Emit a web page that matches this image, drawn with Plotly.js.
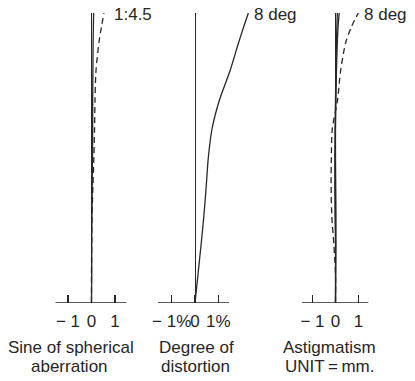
<!DOCTYPE html>
<html>
<head>
<meta charset="utf-8">
<script src="https://cdn.plot.ly/plotly-3.0.1.min.js"></script>
<style>html,body{margin:0;padding:0;background:#fff;}#chart{width:415px;height:381px;}</style>
</head>
<body>
<div id="chart"></div>
<script>
// relative height (field / aperture), bottom = 0, top = 1
const heightFrac = [0, 0.1, 0.2, 0.3, 0.4, 0.5, 0.6, 0.7, 0.8, 0.9, 0.95, 1.0];

// Panel 1: spherical aberration (solid) and sine condition (dashed), 1:4.5
const sphericalAberration = [0, 0.01, 0.01, 0.02, 0.03, 0.04, 0.05, 0.05, 0.06, 0.07, 0.08, 0.09];
const sineCondition       = [0, 0, 0.01, 0.02, 0.06, 0.10, 0.13, 0.15, 0.19, 0.32, 0.42, 0.53];

// Panel 2: distortion (%), 8 deg
const distortion = [0, 0.13, 0.26, 0.38, 0.48, 0.57, 0.73, 1.05, 1.50, 1.88, 2.08, 2.29];

// Panel 3: astigmatism (mm), 8 deg
const astigSagittal   = [0, 0.01, 0.02, 0.02, 0.01, 0.00, 0.00, 0.02, 0.04, 0.08, 0.11, 0.16];
const astigSagittal2  = [0, 0.00, 0.00, -0.02, -0.03, -0.03, -0.02, 0.00, 0.02, 0.04, 0.06, 0.08];
const astigMeridional = [0, 0, -0.07, -0.16, -0.19, -0.18, -0.14, 0.09, 0.22, 0.45, 0.68, 0.99];

const tickVals = [-1, 0, 1];
const tickText1 = ['\u2212 1', '0', '1'];
const tickText2 = ['\u2212 1%', '0', '1%'];
const tickText3 = ['\u2212 1', '0', '1'];

const topLabel1 = '1:4.5';
const topLabel2 = '8 deg';
const topLabel3 = '8 deg';
const title1 = ['Sine of spherical', 'aberration'];
const title2 = ['Degree of', 'distortion'];
const title3 = ['Astigmatism', 'UNIT\u2009=\u2009mm.'];

const W = 415, H = 381;
const ink = '#262626';
const FONT = 'Liberation Sans, Arial, Helvetica, sans-serif';

function px(p) { return p / W; }

const solid = {color: ink, width: 1.3, shape: 'spline', smoothing: 0.8};
const dashed = {color: ink, width: 1.3, dash: '6px,4px', shape: 'spline', smoothing: 0.8};

const data = [
  {x: sphericalAberration, y: heightFrac, xaxis: 'x', yaxis: 'y', mode: 'lines', line: solid, hoverinfo: 'skip'},
  {x: sineCondition, y: heightFrac, xaxis: 'x', yaxis: 'y', mode: 'lines', line: dashed, hoverinfo: 'skip'},
  {x: distortion, y: heightFrac, xaxis: 'x2', yaxis: 'y', mode: 'lines', line: solid, hoverinfo: 'skip'},
  {x: astigSagittal, y: heightFrac, xaxis: 'x3', yaxis: 'y', mode: 'lines', line: solid, hoverinfo: 'skip'},
  {x: astigSagittal2, y: heightFrac, xaxis: 'x3', yaxis: 'y', mode: 'lines', line: solid, hoverinfo: 'skip'},
  {x: astigMeridional, y: heightFrac, xaxis: 'x3', yaxis: 'y', mode: 'lines', line: dashed, hoverinfo: 'skip'}
];

function xax(domainPx, range, tickText) {
  return {
    domain: [px(domainPx[0]), px(domainPx[1])],
    range: range,
    anchor: 'y',
    showgrid: false,
    showline: false,
    zeroline: true,
    zerolinecolor: ink,
    zerolinewidth: 1,
    tickmode: 'array',
    tickvals: tickVals,
    ticktext: tickText,
    tickangle: 0,
    ticks: 'inside',
    ticklen: 8,
    tickwidth: 1.2,
    tickcolor: ink,
    ticklabelstandoff: 6,
    tickfont: {family: FONT, size: 17, color: ink},
    fixedrange: true
  };
}

// scales: ~23.5 px per unit
const layout = {
  width: W, height: H,
  margin: {l: 0, r: 0, t: 13, b: 78},
  paper_bgcolor: '#fff', plot_bgcolor: '#fff',
  showlegend: false,
  xaxis: xax([50, 130], [-1.765, 1.638], tickText1),
  xaxis2: xax([150, 255], [-1.931, 2.575], tickText2),
  xaxis3: xax([298, 370], [-1.63, 1.50], tickText3),
  yaxis: {domain: [0, 1], range: [0, 1], visible: false, fixedrange: true},
  shapes: [
    {type: 'line', xref: 'x', yref: 'y', x0: -1.53, x1: 1.49, y0: 0, y1: 0, line: {color: ink, width: 1.4}},
    {type: 'line', xref: 'x2', yref: 'y', x0: -1.59, x1: 1.46, y0: 0, y1: 0, line: {color: ink, width: 1.4}},
    {type: 'line', xref: 'x3', yref: 'y', x0: -1.46, x1: 1.43, y0: 0, y1: 0, line: {color: ink, width: 1.4}}
  ],
  annotations: [
    {xref: 'x', yref: 'y', x: sineCondition[sineCondition.length - 1], y: 1, text: topLabel1, showarrow: false,
     xanchor: 'left', yanchor: 'middle', xshift: 8, yshift: -1, font: {family: FONT, size: 17, color: ink}},
    {xref: 'x2', yref: 'y', x: distortion[distortion.length - 1], y: 1, text: topLabel2, showarrow: false,
     xanchor: 'left', yanchor: 'middle', xshift: 4, yshift: -1, font: {family: FONT, size: 17, color: ink}},
    {xref: 'x3', yref: 'y', x: astigMeridional[astigMeridional.length - 1], y: 1, text: topLabel3, showarrow: false,
     xanchor: 'left', yanchor: 'middle', xshift: 4, yshift: -1, font: {family: FONT, size: 17, color: ink}},
    {xref: 'paper', yref: 'paper', x: px(71), y: (303 - 347) / 290, text: title1[0], showarrow: false, xanchor: 'center', yanchor: 'middle', font: {family: FONT, size: 17, color: ink}},
    {xref: 'paper', yref: 'paper', x: px(69), y: (303 - 366) / 290, text: title1[1], showarrow: false, xanchor: 'center', yanchor: 'middle', font: {family: FONT, size: 17, color: ink}},
    {xref: 'paper', yref: 'paper', x: px(196), y: (303 - 347) / 290, text: title2[0], showarrow: false, xanchor: 'center', yanchor: 'middle', font: {family: FONT, size: 17, color: ink}},
    {xref: 'paper', yref: 'paper', x: px(195), y: (303 - 366) / 290, text: title2[1], showarrow: false, xanchor: 'center', yanchor: 'middle', font: {family: FONT, size: 17, color: ink}},
    {xref: 'paper', yref: 'paper', x: px(329), y: (303 - 347) / 290, text: title3[0], showarrow: false, xanchor: 'center', yanchor: 'middle', font: {family: FONT, size: 17, color: ink}},
    {xref: 'paper', yref: 'paper', x: px(329), y: (303 - 366) / 290, text: title3[1], showarrow: false, xanchor: 'center', yanchor: 'middle', font: {family: FONT, size: 17, color: ink}}
  ]
};

Plotly.newPlot('chart', data, layout, {displayModeBar: false, staticPlot: true});
</script>
</body>
</html>
